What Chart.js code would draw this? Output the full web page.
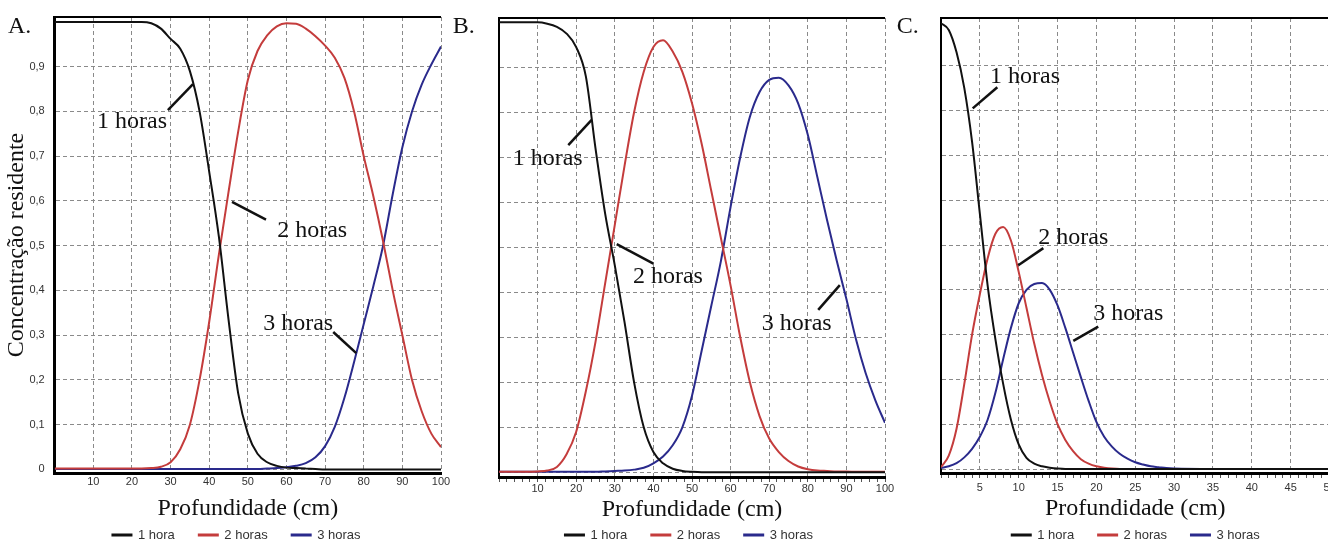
<!DOCTYPE html>
<html>
<head>
<meta charset="utf-8">
<script src="https://cdn.jsdelivr.net/npm/chart.js@4.4.1/dist/chart.umd.min.js"></script>
<style>
  html, body { margin: 0; padding: 0; background: #fff; }
  body { width: 1328px; height: 541px; overflow: hidden; position: relative; }
  canvas { position: absolute; top: 0; }
</style>
</head>
<body>
<canvas id="chartA" width="470" height="600" style="left:0px"></canvas>
<canvas id="chartB" width="465" height="600" style="left:445px"></canvas>
<canvas id="chartC" width="465" height="600" style="left:890px"></canvas>
<script>
// --- data ---
const seriesNames = ['1 hora', '2 horas', '3 horas'];

const depthAB = [0, 2.5, 5, 7.5, 10, 12.5, 15, 17.5, 20, 22.5, 25, 27.5, 30, 32.5, 35, 37.5, 40, 42.5, 45, 47.5,
  50, 52.5, 55, 57.5, 60, 62.5, 65, 67.5, 70, 72.5, 75, 77.5, 80, 82.5, 85, 87.5, 90, 92.5, 95, 97.5, 100];

// panel A
const hora1A = [1, 1, 1, 1, 1, 1, 1, 1, 1, 1, 0.997, 0.985, 0.962, 0.94, 0.89, 0.8, 0.665, 0.52, 0.335, 0.17,
  0.08, 0.035, 0.016, 0.008, 0.004, 0.003, 0.002, 0.001, 0, 0, 0, 0, 0, 0, 0, 0, 0, 0, 0, 0, 0];
const hora2A = [0.002, 0.002, 0.002, 0.002, 0.002, 0.002, 0.002, 0.002, 0.002, 0.002, 0.003, 0.006, 0.016, 0.045, 0.1, 0.2, 0.33, 0.48, 0.62, 0.755,
  0.87, 0.935, 0.97, 0.99, 0.997, 0.996, 0.985, 0.968, 0.947, 0.92, 0.875, 0.8, 0.7, 0.61, 0.51, 0.4, 0.3, 0.2, 0.13, 0.08, 0.05];
const hora3A = [0.001, 0.001, 0.001, 0.001, 0.001, 0.001, 0.001, 0.001, 0.001, 0.001, 0.001, 0.001, 0.001, 0.001, 0.001, 0.001, 0.001, 0.001, 0.001, 0.001,
  0.001, 0.001, 0.002, 0.003, 0.005, 0.008, 0.014, 0.027, 0.052, 0.095, 0.16, 0.24, 0.325, 0.41, 0.5, 0.615, 0.72, 0.8, 0.86, 0.905, 0.945];

// panel B
const hora1B = [1, 1, 1, 1, 1, 0.997, 0.99, 0.975, 0.945, 0.88, 0.72, 0.575, 0.46, 0.335, 0.2, 0.1, 0.045, 0.02, 0.008, 0.003,
  0.001, 0, 0, 0, 0, 0, 0, 0, 0, 0, 0, 0, 0, 0, 0, 0, 0, 0, 0, 0, 0];
const hora2B = [0.001, 0.001, 0.001, 0.001, 0.002, 0.004, 0.012, 0.04, 0.09, 0.18, 0.29, 0.42, 0.55, 0.68, 0.8, 0.89, 0.945, 0.96, 0.935, 0.89,
  0.82, 0.73, 0.625, 0.52, 0.415, 0.3, 0.2, 0.125, 0.075, 0.045, 0.025, 0.013, 0.007, 0.004, 0.003, 0.002, 0.002, 0.001, 0.001, 0.001, 0.001];
const hora3B = [0.001, 0.001, 0.001, 0.001, 0.001, 0.001, 0.001, 0.001, 0.001, 0.001, 0.001, 0.002, 0.003, 0.004, 0.006, 0.01, 0.02, 0.035, 0.06, 0.1,
  0.17, 0.27, 0.37, 0.47, 0.59, 0.7, 0.79, 0.845, 0.872, 0.877, 0.86, 0.82, 0.75, 0.655, 0.56, 0.47, 0.385, 0.295, 0.22, 0.16, 0.11];

// panel C
const depthC = [0, 1, 2, 3, 4, 5, 6, 7, 8, 9, 10, 11, 12, 13, 14, 15, 16, 17, 18, 19, 20,
  21, 22, 23, 24, 25, 26, 27, 28, 29, 30, 35, 40, 45, 50];
const hora1C = [0.995, 0.98, 0.93, 0.85, 0.73, 0.57, 0.41, 0.29, 0.19, 0.11, 0.055, 0.025, 0.012, 0.006, 0.003, 0.001, 0, 0, 0, 0, 0,
  0, 0, 0, 0, 0, 0, 0, 0, 0, 0, 0, 0, 0, 0];
const hora2C = [0.004, 0.03, 0.09, 0.19, 0.3, 0.39, 0.47, 0.525, 0.54, 0.51, 0.44, 0.36, 0.28, 0.21, 0.15, 0.1, 0.065, 0.04, 0.022, 0.012, 0.006,
  0.003, 0.001, 0, 0, 0, 0, 0, 0, 0, 0, 0, 0, 0, 0];
const hora3C = [0.002, 0.006, 0.013, 0.026, 0.045, 0.072, 0.11, 0.17, 0.245, 0.315, 0.37, 0.4, 0.413, 0.415, 0.4, 0.365, 0.315, 0.26, 0.205, 0.152, 0.105,
  0.072, 0.05, 0.034, 0.023, 0.015, 0.01, 0.006, 0.004, 0.002, 0.001, 0, 0, 0, 0];

// tick values
const yTickValues = [0, 0.1, 0.2, 0.3, 0.4, 0.5, 0.6, 0.7, 0.8, 0.9];
const xTicksA = [10, 20, 30, 40, 50, 60, 70, 80, 90, 100];
const xTicksB = [];
for (let v = 0; v <= 100; v += 2) xTicksB.push(v);   // minor ticks every 2 cm
const xTicksC = [];
for (let v = 0; v <= 50; v += 1) xTicksC.push(v);    // minor ticks every 1 cm

// --- styling ---
const SERIF = '"Liberation Serif", "Times New Roman", serif';
const SANS = '"Liberation Sans", Arial, sans-serif';
const seriesColors = ['#111111', '#c43c3c', '#2a2a8c'];
const gridGrey = '#8a8a8a';

Chart.defaults.font.family = SANS;
Chart.defaults.color = '#333';

// top frame, curve labels with leader lines, panel letter
const panelDecor = {
  id: 'panelDecor',
  afterDatasetsDraw(chart, args, opts) {
    const { ctx, chartArea: a, scales: { x, y } } = chart;
    ctx.save();
    ctx.strokeStyle = '#000';
    ctx.lineWidth = 2;
    ctx.beginPath();
    ctx.moveTo(a.left - 1, a.top);
    ctx.lineTo(a.right, a.top);
    ctx.stroke();

    ctx.font = '24px ' + SERIF;
    ctx.fillStyle = '#111';
    ctx.strokeStyle = '#111';
    ctx.textAlign = 'left';
    ctx.textBaseline = 'alphabetic';
    ctx.lineWidth = 2.5;
    opts.notes.forEach(n => {
      ctx.beginPath();
      ctx.moveTo(x.getPixelForValue(n.from[0]), y.getPixelForValue(n.from[1]));
      ctx.lineTo(x.getPixelForValue(n.to[0]), y.getPixelForValue(n.to[1]));
      ctx.stroke();
      ctx.fillText(n.text, x.getPixelForValue(n.x), y.getPixelForValue(n.y));
    });
    ctx.fillText(opts.letter, opts.letterX, opts.letterY);
    ctx.restore();
  }
};

// moves the legend row to where it sits in the figure
const legendPlace = {
  id: 'legendPlace',
  afterLayout(chart, args, opts) {
    const lg = chart.legend;
    if (!lg) return;
    const w = lg.right - lg.left, h = lg.bottom - lg.top;
    lg.left = opts.cx - w / 2;
    lg.right = lg.left + w;
    lg.top = opts.cy - lg.options.labels.padding - 6.5;
    lg.bottom = lg.top + h;
  }
};

function buildChart(id, p) {
  const datasets = p.series.map((vals, i) => ({
    label: seriesNames[i],
    data: p.depth.map((d, j) => ({ x: d, y: vals[j] })),
    borderColor: seriesColors[i],
    backgroundColor: seriesColors[i],
    borderWidth: 2,
    pointRadius: 0,
    cubicInterpolationMode: 'monotone'
  }));

  return new Chart(document.getElementById(id), {
    type: 'line',
    data: { datasets },
    plugins: [panelDecor, legendPlace],
    options: {
      responsive: false,
      animation: false,
      events: [],
      layout: { padding: p.padding },
      scales: {
        x: {
          type: 'linear',
          min: 0,
          max: p.xMax,
          afterBuildTicks: s => { s.ticks = p.xTicks.map(v => ({ value: v })); },
          afterFit: s => { s.height = p.xH; },
          ticks: {
            autoSkip: false,
            maxRotation: 0,
            padding: p.xTickPad,
            font: { size: 11 },
            color: '#333',
            callback: v => (v > 0 && v % p.xLabelStep === 0) ? String(v) : ''
          },
          grid: {
            color: c => (c.tick && c.tick.value > 0 && c.tick.value % p.xLabelStep === 0) ? gridGrey : 'rgba(0,0,0,0)',
            lineWidth: 1,
            drawTicks: p.minorTicks,
            tickLength: 5,
            tickColor: '#555',
            tickWidth: 1
          },
          border: { display: true, color: '#000', width: 3, dash: [4, 3] },
          title: {
            display: true,
            text: 'Profundidade (cm)',
            color: '#111',
            font: { family: SERIF, size: 24 },
            padding: { top: 0, bottom: 0 }
          }
        },
        y: {
          type: 'linear',
          min: p.yMin,
          max: p.yMax,
          afterBuildTicks: s => { s.ticks = yTickValues.map(v => ({ value: v })); },
          afterFit: s => { s.width = p.yW; },
          ticks: {
            display: p.yLabels,
            padding: 10,
            font: { size: 11 },
            color: '#333',
            callback: v => v === 0 ? '0' : v.toFixed(1).replace('.', ',')
          },
          grid: { color: gridGrey, lineWidth: 1, drawTicks: false },
          border: { display: true, color: '#000', width: p.yBorder, dash: [4, 3] },
          title: {
            display: p.yLabels,
            text: 'Concentração residente',
            color: '#111',
            font: { family: SERIF, size: 24 },
            padding: { top: 2, bottom: 0 }
          }
        }
      },
      plugins: {
        tooltip: { enabled: false },
        legend: {
          position: 'bottom',
          labels: { boxWidth: 19, boxHeight: 1, padding: 24, color: '#333', font: { size: 13 } }
        },
        legendPlace: { cx: p.legendX, cy: 535 },
        panelDecor: { notes: p.notes, letter: p.letter, letterX: p.letterX, letterY: 33 }
      }
    }
  });
}

buildChart('chartA', {
  depth: depthAB, series: [hora1A, hora2A, hora3A],
  xMax: 100, xTicks: xTicksA, xLabelStep: 10, minorTicks: false, xTickPad: 2, xH: 50,
  yMin: -0.008, yMax: 1.011, yW: 54.7, yLabels: true, yBorder: 3,
  padding: { top: 17, left: 0, right: 29, bottom: 30 },
  legendX: 236.5, letter: 'A.', letterX: 8,
  notes: [
    { text: '1 horas', x: 10.96, y: 0.763, from: [29.3, 0.803], to: [35.8, 0.861] },
    { text: '2 horas', x: 57.6, y: 0.519, from: [45.9, 0.598], to: [54.7, 0.558] },
    { text: '3 horas', x: 53.96, y: 0.3115, from: [72.1, 0.307], to: [78.06, 0.26] }
  ]
});

buildChart('chartB', {
  depth: depthAB, series: [hora1B, hora2B, hora3B],
  xMax: 100, xTicks: xTicksB, xLabelStep: 10, minorTicks: true, xTickPad: 0, xH: 47,
  yMin: -0.0104, yMax: 1.0096, yW: 2, yLabels: false, yBorder: 2,
  padding: { top: 18, left: 52, right: 25, bottom: 29 },
  legendX: 244, letter: 'B.', letterX: 7.7,
  notes: [
    { text: '1 horas', x: 3.55, y: 0.683, from: [17.95, 0.727], to: [24.0, 0.783] },
    { text: '2 horas', x: 34.7, y: 0.421, from: [30.5, 0.507], to: [40.0, 0.464] },
    { text: '3 horas', x: 68.06, y: 0.316, from: [82.7, 0.361], to: [88.3, 0.416] }
  ]
});

buildChart('chartC', {
  depth: depthC, series: [hora1C, hora2C, hora3C],
  xMax: 50, xTicks: xTicksC, xLabelStep: 5, minorTicks: true, xTickPad: 3, xH: 50,
  yMin: -0.0089, yMax: 1.0067, yW: 2, yLabels: false, yBorder: 2,
  padding: { top: 18, left: 49, right: 25.5, bottom: 30 },
  legendX: 245.8, letter: 'C.', letterX: 6.7,
  notes: [
    { text: '1 horas', x: 6.31, y: 0.861, from: [4.08, 0.805], to: [7.25, 0.852] },
    { text: '2 horas', x: 12.52, y: 0.502, from: [9.95, 0.455], to: [13.17, 0.493] },
    { text: '3 horas', x: 19.6, y: 0.333, from: [17.03, 0.286], to: [20.24, 0.318] }
  ]
});
</script>
</body>
</html>
